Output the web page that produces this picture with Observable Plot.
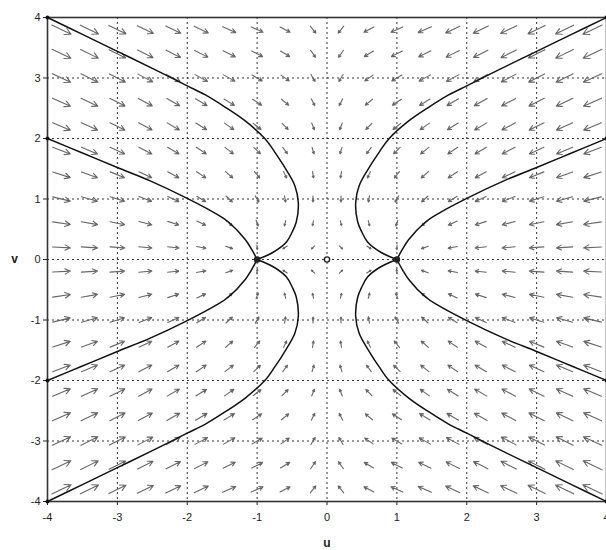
<!DOCTYPE html>
<html>
<head>
<meta charset="utf-8">
<script src="https://cdn.jsdelivr.net/npm/d3@7"></script>
<script src="https://cdn.jsdelivr.net/npm/@observablehq/plot@0.6"></script>
<style>
  html, body { margin: 0; padding: 0; background: #fff; }
</style>
</head>
<body>
<div id="chart"></div>
<script>
// ---- tick values of both axes
const axisTicks = [-4, -3, -2, -1, 0, 1, 2, 3, 4];

// ---- direction-field sample grid (upper-left quadrant; the field is mirror-symmetric)
const gridU = [-3.8, -3.4, -3.0, -2.6, -2.2, -1.8, -1.4, -1.0, -0.6, -0.2];
const gridV = [0.2, 0.6, 1.0, 1.4, 1.8, 2.2, 2.6, 3.0, 3.4, 3.8];

// arrow components (data units), one row per gridV value
const arrowDU = [
  [0.254, 0.232, 0.210, 0.186, 0.161, 0.133, 0.097, 0.008, -0.062, -0.046],
  [0.253, 0.231, 0.208, 0.184, 0.158, 0.127, 0.087, 0.029, -0.018, -0.016],
  [0.251, 0.229, 0.206, 0.182, 0.156, 0.126, 0.092, 0.052, 0.016, 0.001],
  [0.250, 0.229, 0.206, 0.183, 0.158, 0.132, 0.104, 0.074, 0.044, 0.014],
  [0.251, 0.230, 0.208, 0.186, 0.164, 0.141, 0.118, 0.094, 0.067, 0.027],
  [0.253, 0.233, 0.213, 0.193, 0.173, 0.153, 0.133, 0.112, 0.086, 0.038],
  [0.257, 0.238, 0.219, 0.201, 0.183, 0.165, 0.148, 0.129, 0.103, 0.049],
  [0.262, 0.244, 0.227, 0.210, 0.194, 0.178, 0.162, 0.143, 0.118, 0.060],
  [0.269, 0.252, 0.236, 0.220, 0.205, 0.190, 0.175, 0.157, 0.131, 0.070],
  [0.276, 0.260, 0.245, 0.231, 0.217, 0.202, 0.187, 0.169, 0.143, 0.079]
];
const arrowDV = [
  [-0.015, -0.016, -0.017, -0.019, -0.022, -0.028, -0.041, -0.075, -0.047, -0.052],
  [-0.045, -0.047, -0.050, -0.054, -0.060, -0.069, -0.083, -0.096, -0.089, -0.083],
  [-0.071, -0.073, -0.076, -0.080, -0.085, -0.092, -0.099, -0.104, -0.102, -0.096],
  [-0.093, -0.095, -0.097, -0.099, -0.101, -0.103, -0.105, -0.106, -0.105, -0.104],
  [-0.110, -0.111, -0.111, -0.111, -0.111, -0.109, -0.107, -0.105, -0.105, -0.109],
  [-0.124, -0.123, -0.122, -0.119, -0.116, -0.112, -0.107, -0.102, -0.102, -0.112],
  [-0.134, -0.132, -0.129, -0.125, -0.119, -0.112, -0.105, -0.099, -0.099, -0.114],
  [-0.142, -0.139, -0.134, -0.128, -0.120, -0.112, -0.103, -0.096, -0.096, -0.116],
  [-0.148, -0.143, -0.137, -0.129, -0.120, -0.110, -0.100, -0.092, -0.092, -0.116],
  [-0.153, -0.146, -0.139, -0.130, -0.120, -0.109, -0.098, -0.089, -0.089, -0.116]
];

// ---- trajectories (upper-left ones; the other six are their mirror images)
const outerU = [-4, -3.5, -3.0, -2.5, -2.0, -1.74, -1.46, -1.17, -0.89, -0.75, -0.62, -0.46, -0.41, -0.44, -0.5, -0.58, -0.77, -1.0];
const outerV = [4, 3.72, 3.44, 3.16, 2.87, 2.72, 2.52, 2.29, 2.0, 1.78, 1.55, 1.22, 0.93, 0.62, 0.45, 0.29, 0.12, 0];
const innerU = [-4, -3.5, -3.0, -2.53, -2.0, -1.58, -1.41, -1.17, -1.08, -1.0];
const innerV = [2, 1.76, 1.52, 1.3, 1.01, 0.75, 0.62, 0.33, 0.17, 0];

// ---- initial points and equilibria
const startU = [-4, -4];
const startV = [4, 2];
const equilibriumU = [-1, 0, 1];
const equilibriumV = [0, 0, 0];
const equilibriumFill = ["#222", "white", "#222"];

// ---- tables built from the arrays above
const mirrors = [[1, 1], [-1, 1], [1, -1], [-1, -1]];
const arrows = [];
for (const [sx, sy] of mirrors)
  gridV.forEach((v, i) => gridU.forEach((u, j) => arrows.push({
    u: sx * u, v: sy * v, du: sx * arrowDU[i][j], dv: sy * arrowDV[i][j]
  })));

const curves = [];
mirrors.forEach(([sx, sy], k) => {
  outerU.forEach((u, i) => curves.push({id: "o" + k, u: sx * u, v: sy * outerV[i]}));
  innerU.forEach((u, i) => curves.push({id: "i" + k, u: sx * u, v: sy * innerV[i]}));
});
const starts = [];
for (const [sx, sy] of mirrors) startU.forEach((u, i) => starts.push({u: sx * u, v: sy * startV[i]}));
const equilibria = equilibriumU.map((u, i) => ({u, v: equilibriumV[i], fill: equilibriumFill[i]}));

const chart = Plot.plot({
  width: 606,
  height: 550,
  marginLeft: 47,
  marginRight: 0,
  marginTop: 17,
  marginBottom: 49,
  style: {fontFamily: "'Liberation Sans', Arial, sans-serif", fontSize: "11px", color: "#222", background: "#fff"},
  x: {domain: [-4, 4], ticks: axisTicks, tickSize: 4, tickPadding: 8, tickFormat: d => String(d), label: null},
  y: {domain: [-4, 4], ticks: axisTicks, tickSize: 4, tickPadding: 3, tickFormat: d => String(d), label: null},
  marks: [
    Plot.ruleX(axisTicks.slice(1, -1), {stroke: "#333", strokeDasharray: "2,3", strokeWidth: 1}),
    Plot.ruleY(axisTicks.slice(1, -1), {stroke: "#333", strokeDasharray: "2,3", strokeWidth: 1}),
    Plot.arrow(arrows, {
      x1: d => d.u - d.du / 2, y1: d => d.v - d.dv / 2,
      x2: d => d.u + d.du / 2, y2: d => d.v + d.dv / 2,
      stroke: "#666", strokeWidth: 1.1, headLength: 30, headAngle: 55
    }),
    Plot.line(curves, {x: "u", y: "v", z: "id", curve: "catmull-rom", stroke: "#111", strokeWidth: 1.5}),
    Plot.frame({stroke: "#333", strokeWidth: 1.6}),
    Plot.dot(starts, {x: "u", y: "v", r: 2, fill: "#111"}),
    Plot.dot(equilibria, {x: "u", y: "v", r: 2.6, fill: "fill", stroke: "#222", strokeWidth: 1.4}),
    Plot.text(["u"], {text: d => d, frameAnchor: "bottom", dy: 45, fontSize: 12, fontWeight: "bold"}),
    Plot.text(["v"], {text: d => d, frameAnchor: "left", dx: -33, textAnchor: "middle", fontSize: 12, fontWeight: "bold"})
  ]
});
document.getElementById("chart").append(chart);
</script>
</body>
</html>
